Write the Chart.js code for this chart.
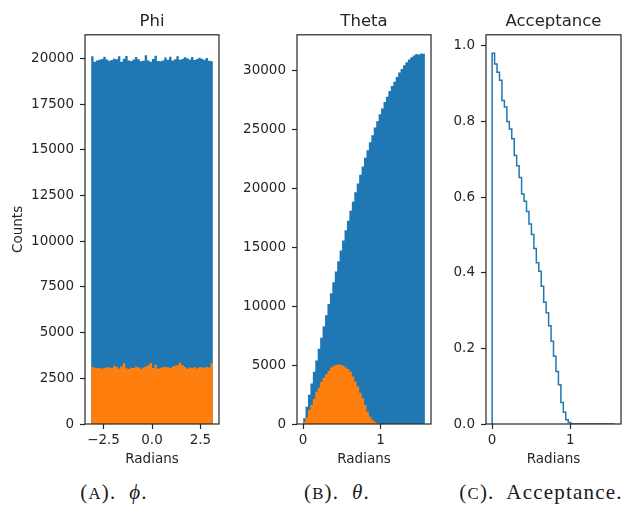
<!DOCTYPE html>
<html>
<head>
<meta charset="utf-8">
<script src="https://cdn.jsdelivr.net/npm/chart.js@4.4.1/dist/chart.umd.min.js"></script>
<style>
  html, body { margin: 0; padding: 0; background: #fff; }
  #page { position: relative; width: 627px; height: 505px; overflow: hidden; }
  .panel { position: absolute; top: 0; }
  .caption {
    position: absolute; top: 480px; line-height: 24px;
    font-family: "Liberation Serif", "DejaVu Serif", serif; font-size: 21px; color: #1a1a1a;
    letter-spacing: 1.2px;
    transform: translateX(-50%); white-space: nowrap;
  }
  .sc { font-size: 0.8em; }
</style>
</head>
<body>
<div id="page">
  <canvas id="phiChart" class="panel" style="left:0" width="228" height="470"></canvas>
  <canvas id="thetaChart" class="panel" style="left:228px" width="208" height="470"></canvas>
  <canvas id="accChart" class="panel" style="left:436px" width="191" height="470"></canvas>
  <div class="caption" style="left:114px">(<span class="sc">A</span>).&nbsp; <i>ϕ</i>.</div>
  <div class="caption" style="left:337px">(<span class="sc">B</span>).&nbsp; <i>θ</i>.</div>
  <div class="caption" style="left:541px">(<span class="sc">C</span>).&nbsp; Acceptance.</div>
</div>
<script>
// histogram binning (50 bins each)
const N_BINS = 50;
const PHI_RANGE = [-Math.PI, Math.PI];
const THETA_RANGE = [0, Math.PI / 2];

// Phi counts, all events (blue) and accepted (orange)
const phiAll = [
  20130, 19820, 19890, 19930, 19980, 20100, 19950, 19880, 19920, 19990,
  19960, 20120, 19830, 19990, 20140, 19900, 19870, 19950, 20080, 19960,
  19850, 19880, 20180, 19900, 19820, 19980, 20150, 19870, 19850, 19900,
  20060, 19940, 20100, 19890, 19960, 20120, 19930, 19980, 20070, 20010,
  19950, 20080, 19920, 19970, 20050, 19990, 19940, 20030, 19880, 19850
];
const phiAccepted = [
  3120, 3080, 3050, 3060, 3020, 3070, 3090, 3110, 3060, 3180,
  3130, 3040, 3150, 3320, 3050, 3010, 3080, 3060, 3130, 3100,
  3020, 3090, 3150, 3210, 3340, 3060, 3240, 3020, 3080, 3100,
  3130, 3110, 3070, 3140, 3190, 3210, 3350, 3230, 3120, 3030,
  3090, 3070, 3120, 3040, 3090, 3100, 3080, 3120, 3090, 3340
];

// Theta counts
const thetaAll = [
  490, 1470, 2470, 3430, 4440, 5390, 6380, 7320, 8290, 9220,
  10180, 11090, 12020, 12930, 13800, 14710, 15560, 16420, 17230, 18080,
  18850, 19640, 20390, 21140, 21840, 22570, 23210, 23890, 24490, 25130,
  25680, 26270, 26760, 27310, 27750, 28230, 28650, 29020, 29420, 29800,
  30100, 30410, 30670, 30900, 31090, 31240, 31380, 31320, 31420, 31400
];
const thetaAccepted = [
  195, 535, 1190, 1610, 2120, 2740, 3080, 3590, 3930, 4220,
  4500, 4780, 4900, 5010, 5070, 5010, 4950, 4780, 4670, 4440,
  4020, 3590, 3170, 2660, 2180, 1610, 1045, 620, 340, 195,
  85, 30, 0, 0, 0, 0, 0, 0, 0, 0,
  0, 0, 0, 0, 0, 0, 0, 0, 0, 0
];

// Acceptance per theta bin
const acceptance = [
  0.980, 0.952, 0.930, 0.909, 0.855, 0.838, 0.800, 0.780, 0.754, 0.710,
  0.683, 0.652, 0.608, 0.589, 0.562, 0.529, 0.501, 0.464, 0.426, 0.404,
  0.364, 0.322, 0.294, 0.260, 0.219, 0.179, 0.139, 0.104, 0.057, 0.031,
  0.011, 0.004, 0, 0, 0, 0, 0, 0, 0, 0,
  0, 0, 0, 0, 0, 0, 0, 0, 0, 0
];

// ticks
const PHI_X_TICKS = [-2.5, 0, 2.5];
const PHI_Y_TICKS = [0, 2500, 5000, 7500, 10000, 12500, 15000, 17500, 20000];
const THETA_X_TICKS = [0, 1];
const THETA_Y_TICKS = [0, 5000, 10000, 15000, 20000, 25000, 30000];
const ACC_X_TICKS = [0, 1];
const ACC_Y_TICKS = [0, 0.2, 0.4, 0.6, 0.8, 1.0];

const BLUE = '#1f77b4';
const ORANGE = '#ff7f0e';
const TEXT = '#262626';
const FONT = 'DejaVu Sans';

function binEdges(range, n) {
    const w = (range[1] - range[0]) / n;
    const edges = [];
    for (let i = 0; i <= n; i++) edges.push(range[0] + i * w);
    return edges;
}

// points for a step outline: value i held from edge i to edge i+1
function stairs(edges, values) {
    const pts = values.map((v, i) => ({ x: edges[i], y: v }));
    pts.push({ x: edges[edges.length - 1], y: values[values.length - 1] });
    return pts;
}

const framePlugin = {
    id: 'frame',
    afterDatasetsDraw(chart) {
        const a = chart.chartArea;
        const ctx = chart.ctx;
        ctx.save();
        ctx.strokeStyle = TEXT;
        ctx.lineWidth = 1.2;
        ctx.strokeRect(a.left, a.top, a.right - a.left, a.bottom - a.top);
        ctx.restore();
    }
};

function axis(cfg) {
    return {
        type: 'linear',
        min: cfg.min,
        max: cfg.max,
        afterBuildTicks: s => { s.ticks = cfg.ticks.map(v => ({ value: v })); },
        ticks: {
            color: TEXT,
            font: { family: FONT, size: 13.5 },
            padding: cfg.pad,
            autoSkip: false,
            maxRotation: 0,
            callback: cfg.fmt
        },
        grid: { drawOnChartArea: false, drawTicks: true, tickLength: 5, tickColor: TEXT, tickWidth: 1.2 },
        border: { display: false },
        title: {
            display: !!cfg.title,
            text: cfg.title,
            color: TEXT,
            font: { family: FONT, size: 13.5 },
            padding: cfg.titlePad
        },
        afterFit: cfg.fit
    };
}

function makePanel(id, opts) {
    new Chart(document.getElementById(id), {
        type: 'line',
        data: { datasets: opts.datasets },
        options: {
            responsive: false,
            animation: false,
            layout: { padding: { left: 0, right: opts.padRight, top: 0, bottom: 0 } },
            elements: { point: { radius: 0 } },
            plugins: {
                legend: { display: false },
                tooltip: { enabled: false },
                title: {
                    display: true,
                    text: opts.title,
                    fullSize: false,
                    color: TEXT,
                    font: { family: FONT, size: 16.5, weight: 'normal' },
                    padding: { top: 12, bottom: 3 }
                }
            },
            scales: {
                x: axis({
                    min: opts.xMin, max: opts.xMax, ticks: opts.xTicks, fmt: opts.xFmt, pad: 3,
                    title: 'Radians', titlePad: { top: 0, bottom: 2 },
                    fit: s => { s.height = 46; }
                }),
                y: axis({
                    min: 0, max: opts.yMax, ticks: opts.yTicks, fmt: opts.yFmt, pad: 6,
                    title: opts.yTitle, titlePad: { top: 10, bottom: 0 },
                    fit: s => { s.width = opts.yWidth; }
                })
            }
        },
        plugins: [framePlugin]
    });
}

function histSet(edges, values, color) {
    return {
        data: stairs(edges, values),
        stepped: true,
        fill: 'origin',
        backgroundColor: color,
        borderWidth: 0,
        borderColor: color
    };
}

const phiEdges = binEdges(PHI_RANGE, N_BINS);
const thetaEdges = binEdges(THETA_RANGE, N_BINS);
const minusFmt = v => (v < 0 ? '\u2212' : '') + Math.abs(v).toFixed(1);
const intFmt = v => String(v);

makePanel('phiChart', {
    title: 'Phi', yTitle: 'Counts', yWidth: 85, padRight: 9,
    xMin: -3.456, xMax: 3.456, yMax: 21300,
    xTicks: PHI_X_TICKS, yTicks: PHI_Y_TICKS, xFmt: minusFmt, yFmt: intFmt,
    datasets: [histSet(phiEdges, phiAccepted, ORANGE), histSet(phiEdges, phiAll, BLUE)]
});

makePanel('thetaChart', {
    title: 'Theta', yTitle: '', yWidth: 69, padRight: 5,
    xMin: -0.0785, xMax: 1.649, yMax: 33000,
    xTicks: THETA_X_TICKS, yTicks: THETA_Y_TICKS, xFmt: intFmt, yFmt: intFmt,
    datasets: [histSet(thetaEdges, thetaAccepted, ORANGE), histSet(thetaEdges, thetaAll, BLUE)]
});

// acceptance drawn as stairs that start and end on the baseline
const accPoints = [{ x: thetaEdges[0], y: 0 }].concat(stairs(thetaEdges, acceptance));
accPoints.push({ x: thetaEdges[N_BINS], y: 0 });

makePanel('accChart', {
    title: 'Acceptance', yTitle: '', yWidth: 50, padRight: 6,
    xMin: -0.0785, xMax: 1.649, yMax: 1.029,
    xTicks: ACC_X_TICKS, yTicks: ACC_Y_TICKS, xFmt: intFmt, yFmt: v => v.toFixed(1),
    datasets: [{
        data: accPoints,
        stepped: true,
        fill: false,
        borderColor: BLUE,
        borderWidth: 1.5
    }]
});
</script>
</body>
</html>
